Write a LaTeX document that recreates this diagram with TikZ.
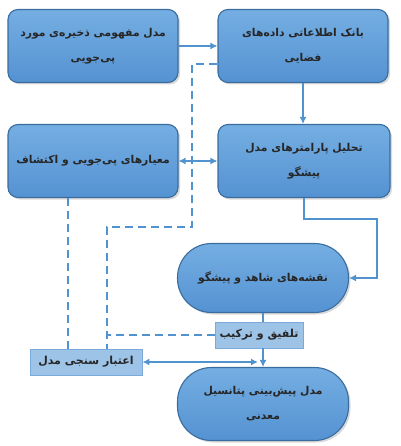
\documentclass[tikz,border=0pt]{standalone}
\usepackage{fontspec}
\newfontfamily\arabicfont[Script=Arabic]{DejaVu Sans}
\TeXXeTstate=1
\usetikzlibrary{positioning,arrows.meta,shadows}
\definecolor{boxtop}{HTML}{74AEE2}
\definecolor{boxbot}{HTML}{5592D2}
\definecolor{boxline}{HTML}{3A6C9E}
\definecolor{linkcol}{HTML}{5193CF}
\definecolor{pale}{HTML}{9DC3E6}
\definecolor{paleline}{HTML}{7BA9D9}
\newcommand{\fa}[1]{\beginR #1\endR}

\begin{document}
\begin{tikzpicture}[x=1pt, y=-1pt, >={Latex[length=7pt,width=7pt]},
    bigbox/.style={draw=boxline, line width=1.1pt, rounded corners=10pt,
      top color=boxtop, bottom color=boxbot, minimum width=170pt, minimum height=73pt,
      align=center, text=black!85, font=\arabicfont\bfseries\fontsize{10.8}{25}\selectfont,
      drop shadow={opacity=0.3, shadow xshift=2pt, shadow yshift=-2pt}},
    pill/.style={bigbox, rounded corners=34pt, minimum width=171pt, minimum height=69pt},
    smallbox/.style={draw=paleline, line width=0.8pt, fill=pale, minimum height=26pt,
      text=black!85, font=\arabicfont\bfseries\fontsize{11}{14}\selectfont},
    link/.style={draw=linkcol, line width=2pt},
    dlink/.style={link, dash pattern=on 8pt off 5pt}]
  \useasboundingbox (0,0) rectangle (400,446);

  \node[bigbox] (mafhoomi) at (93,46) {\fa{مدل مفهومی ذخیره‌ی مورد}\\\fa{پی‌جویی}};
  \node[bigbox] (bank) at (303,46) {\fa{بانک اطلاعاتی داده‌های}\\\fa{فضایی}};
  \node[bigbox, minimum width=172pt] (tahlil) at (304,161) {\fa{تحلیل پارامترهای مدل}\\\fa{پیشگو}};
  \node[bigbox] (meyar) at (93,161) {\fa{معیارهای پی‌جویی و اکتشاف}};
  \node[pill] (naqshe) at (263,278) {\fa{نقشه‌های شاهد و پیشگو}};
  \node[smallbox, minimum width=88pt] (talfiq) at (259,335) {\fa{تلفیق و ترکیب}};
  \node[smallbox, minimum width=112pt] (etebar) at (86,362) {\fa{اعتبار سنجی مدل}};
  \node[pill, minimum height=73pt] (pishbini) at (263,404) {\fa{مدل پیش‌بینی پتانسیل}\\\fa{معدنی}};

  \draw[link,->] (mafhoomi.east) -- (bank.west);
  \draw[link,->] (bank.south) -- (bank.south |- tahlil.north);
  \draw[link,<->] (meyar.east) -- (tahlil.west);
  \draw[link,->] (tahlil.south) -- ++(0,21) -| ([xshift=28pt]naqshe.east) -- (naqshe.east);
  \draw[link] (naqshe.south) -- (naqshe.south |- talfiq.north);
  \draw[link,->] (pishbini.north |- talfiq.south) -- (pishbini.north);
  \draw[link,<->] (etebar.east) -- ([xshift=-5pt]etebar.east -| pishbini.north);

  \draw[dlink] ([yshift=-18pt]bank.west) -- ++(-25,0) -- ++(0,163) -- ++(-85,0) coordinate (jn)
    -- (jn |- etebar.north);
  \draw[dlink] (talfiq.west) -- (talfiq.west -| jn);
  \draw[dlink] ([xshift=-25pt]meyar.south) -- ([xshift=-25pt]meyar.south |- etebar.north);
\end{tikzpicture}
\end{document}
